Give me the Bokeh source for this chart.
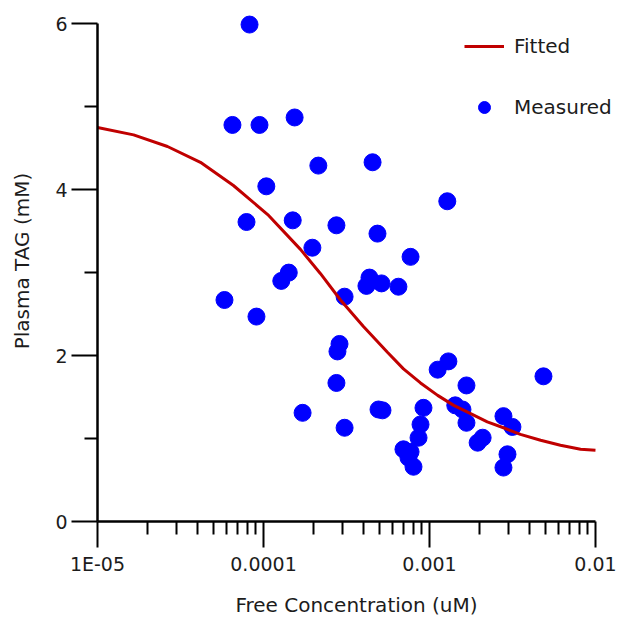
from bokeh.plotting import figure
from bokeh.models import Range1d, FixedTicker, Legend, LegendItem
from bokeh.embed import file_html
from bokeh.resources import INLINE

# Measured points: free concentration (uM) and plasma TAG (mM)
conc = [8.24e-5, 6.50e-5, 9.46e-5, 1.54e-4, 2.14e-4, 4.54e-4, 1.04e-4, 1.28e-3, 7.90e-5, 1.50e-4,
        2.75e-4, 4.86e-4, 1.97e-4, 7.69e-4, 1.42e-4, 1.28e-4, 4.35e-4, 4.17e-4, 5.14e-4, 6.50e-4,
        3.08e-4, 5.82e-5, 9.07e-5, 2.87e-4, 2.79e-4, 2.75e-4, 4.93e-4, 5.21e-4, 3.08e-4, 1.30e-3,
        1.12e-3, 1.67e-3, 4.86e-3, 9.20e-4, 8.83e-4, 8.59e-4, 6.97e-4, 7.69e-4, 7.47e-4, 8.01e-4,
        1.43e-3, 1.58e-3, 1.67e-3, 2.09e-3, 1.95e-3, 2.79e-3, 3.16e-3, 2.95e-3, 2.79e-3, 1.72e-4]
tag = [5.99, 4.78, 4.78, 4.87, 4.29, 4.33, 4.04, 3.86, 3.61, 3.63,
       3.57, 3.47, 3.30, 3.19, 3.00, 2.90, 2.94, 2.84, 2.87, 2.83,
       2.71, 2.67, 2.47, 2.14, 2.05, 1.67, 1.35, 1.34, 1.13, 1.93,
       1.83, 1.64, 1.75, 1.37, 1.17, 1.01, 0.87, 0.84, 0.77, 0.66,
       1.40, 1.35, 1.19, 1.01, 0.95, 1.27, 1.14, 0.81, 0.65, 1.31]

# Fitted curve
fit_conc = [1.00e-5, 1.65e-5, 2.64e-5, 4.17e-5, 6.59e-5, 1.06e-4, 1.67e-4, 2.20e-4, 2.91e-4,
            4.00e-4, 5.58e-4, 6.97e-4, 8.83e-4, 1.12e-3, 1.40e-3, 1.77e-3, 2.23e-3, 2.79e-3,
            3.53e-3, 4.67e-3, 6.15e-3, 8.13e-3, 1.00e-2]
fit_tag = [4.75, 4.66, 4.52, 4.33, 4.05, 3.70, 3.28, 2.99, 2.67,
           2.35, 2.04, 1.84, 1.67, 1.52, 1.40, 1.30, 1.20, 1.13,
           1.05, 0.98, 0.92, 0.87, 0.86]

x_major = [1e-5, 1e-4, 1e-3, 1e-2]
x_major_labels = ["1E-05", "0.0001", "0.001", "0.01"]
x_minor = [m * d for d in [1e-5, 1e-4, 1e-3] for m in range(2, 10)]
y_major = [0, 2, 4, 6]
y_minor = [1, 3, 5]

FONT = "DejaVu Sans"
TXT = "#1c1c1c"

# Ranges run a little past the axis ends (0.01 and 6) so the legend and the top
# point have room; the axis lines themselves stop at the last tick (bounds).
p = figure(width=620, height=619, x_axis_type="log",
           x_range=Range1d(1e-5, 1.32e-2), y_range=Range1d(0, 6.28),
           output_backend="svg", toolbar_location=None,
           min_border_left=97, min_border_right=5, min_border_top=0, min_border_bottom=98)
p.xgrid.visible = False
p.ygrid.visible = False
p.outline_line_color = None
p.background_fill_color = "white"
p.border_fill_color = "white"

xa = p.xaxis[0]
ya = p.yaxis[0]
xa.bounds = (x_major[0], x_major[-1])
ya.bounds = (y_major[0], y_major[-1])
xa.ticker = FixedTicker(ticks=x_major, minor_ticks=x_minor)
xa.major_label_overrides = {t: l for t, l in zip(x_major, x_major_labels)}
ya.ticker = FixedTicker(ticks=y_major, minor_ticks=y_minor)
xa.axis_label = "Free Concentration (uM)"
ya.axis_label = "Plasma TAG (mM)"

for ax in (xa, ya):
    ax.axis_line_color = "black"
    ax.axis_line_width = 2.5
    ax.major_tick_line_color = "black"
    ax.minor_tick_line_color = "black"
    ax.major_tick_line_width = 2
    ax.minor_tick_line_width = 2
    ax.major_tick_in = 0
    ax.minor_tick_in = 0
    ax.major_tick_out = 26
    ax.minor_tick_out = 13
    ax.major_label_text_font = FONT
    ax.major_label_text_font_size = "19px"
    ax.major_label_text_color = TXT
    ax.axis_label_text_font = FONT
    ax.axis_label_text_font_size = "20px"
    ax.axis_label_text_font_style = "normal"
    ax.axis_label_text_color = TXT
xa.major_label_standoff = 5
ya.major_label_standoff = 4
xa.axis_label_standoff = 15
ya.axis_label_standoff = 18

r_pts = p.scatter(conc, tag, size=17, fill_color="#0000FF", line_color="#0000FF")
r_line = p.line(fit_conc, fit_tag, line_color="#C00000", line_width=3)

legend = Legend(items=[LegendItem(label="Fitted", renderers=[r_line]),
                       LegendItem(label="Measured", renderers=[r_pts])],
                location=(367, 399), border_line_color=None, background_fill_alpha=0,
                padding=0, margin=0, spacing=31, glyph_width=40, glyph_height=30,
                label_standoff=10, label_height=30,
                label_text_font=FONT, label_text_font_size="20px", label_text_color=TXT)
p.add_layout(legend)

open("out.html", "w").write(file_html(p, INLINE))
